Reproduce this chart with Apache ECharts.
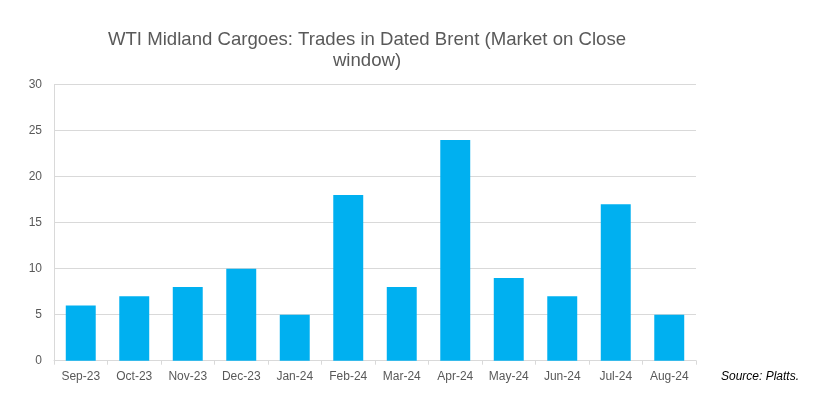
<!DOCTYPE html>
<html><head><meta charset="utf-8">
<script src="https://cdn.jsdelivr.net/npm/echarts@6/dist/echarts.min.js"></script>
<style>html,body{margin:0;padding:0;background:#fff}#c{width:824px;height:398px}</style>
</head><body><div id="c"></div>
<script>
const categories = ['Sep-23','Oct-23','Nov-23','Dec-23','Jan-24','Feb-24','Mar-24','Apr-24','May-24','Jun-24','Jul-24','Aug-24'];
const trades = [6,7,8,10,5,18,8,24,9,7,17,5];
const yTicks = [0,5,10,15,20,25,30];

const chart = echarts.init(document.getElementById('c'), null, {renderer:'canvas'});
chart.setOption({
  animation:false,
  backgroundColor:'#fff',
  title:{
    text:'WTI Midland Cargoes: Trades in Dated Brent (Market on Close\nwindow)',
    left:362, top:24, textAlign:'center',
    textStyle:{fontFamily:'Liberation Sans, Arial, sans-serif', fontSize:18.6, fontWeight:'normal', color:'#595959', lineHeight:21}
  },
  graphic:[{type:'text', left:721, top:371, style:{text:'Source: Platts.', font:'italic 12px "Liberation Sans", Arial, sans-serif', fill:'#000'}}],
  grid:{left:54, right:128, top:84.7, bottom:37.3, containLabel:false},
  xAxis:{
    type:'category', data:categories,
    axisLine:{lineStyle:{color:'#d9d9d9', width:1}},
    axisTick:{show:true, length:4, lineStyle:{color:'#d9d9d9'}},
    axisLabel:{color:'#595959', fontSize:12, fontFamily:'Liberation Sans, Arial, sans-serif', margin:10}
  },
  yAxis:{
    type:'value', min:yTicks[0], max:yTicks[yTicks.length-1], interval:5,
    axisLine:{show:true, lineStyle:{color:'#d9d9d9'}},
    axisTick:{show:false},
    splitLine:{lineStyle:{color:'#d9d9d9'}},
    axisLabel:{color:'#595959', fontSize:12, fontFamily:'Liberation Sans, Arial, sans-serif', margin:12}
  },
  series:[{type:'bar', data:trades, barWidth:'56%', itemStyle:{color:'#00B0F0'}}]
});
</script></body></html>
